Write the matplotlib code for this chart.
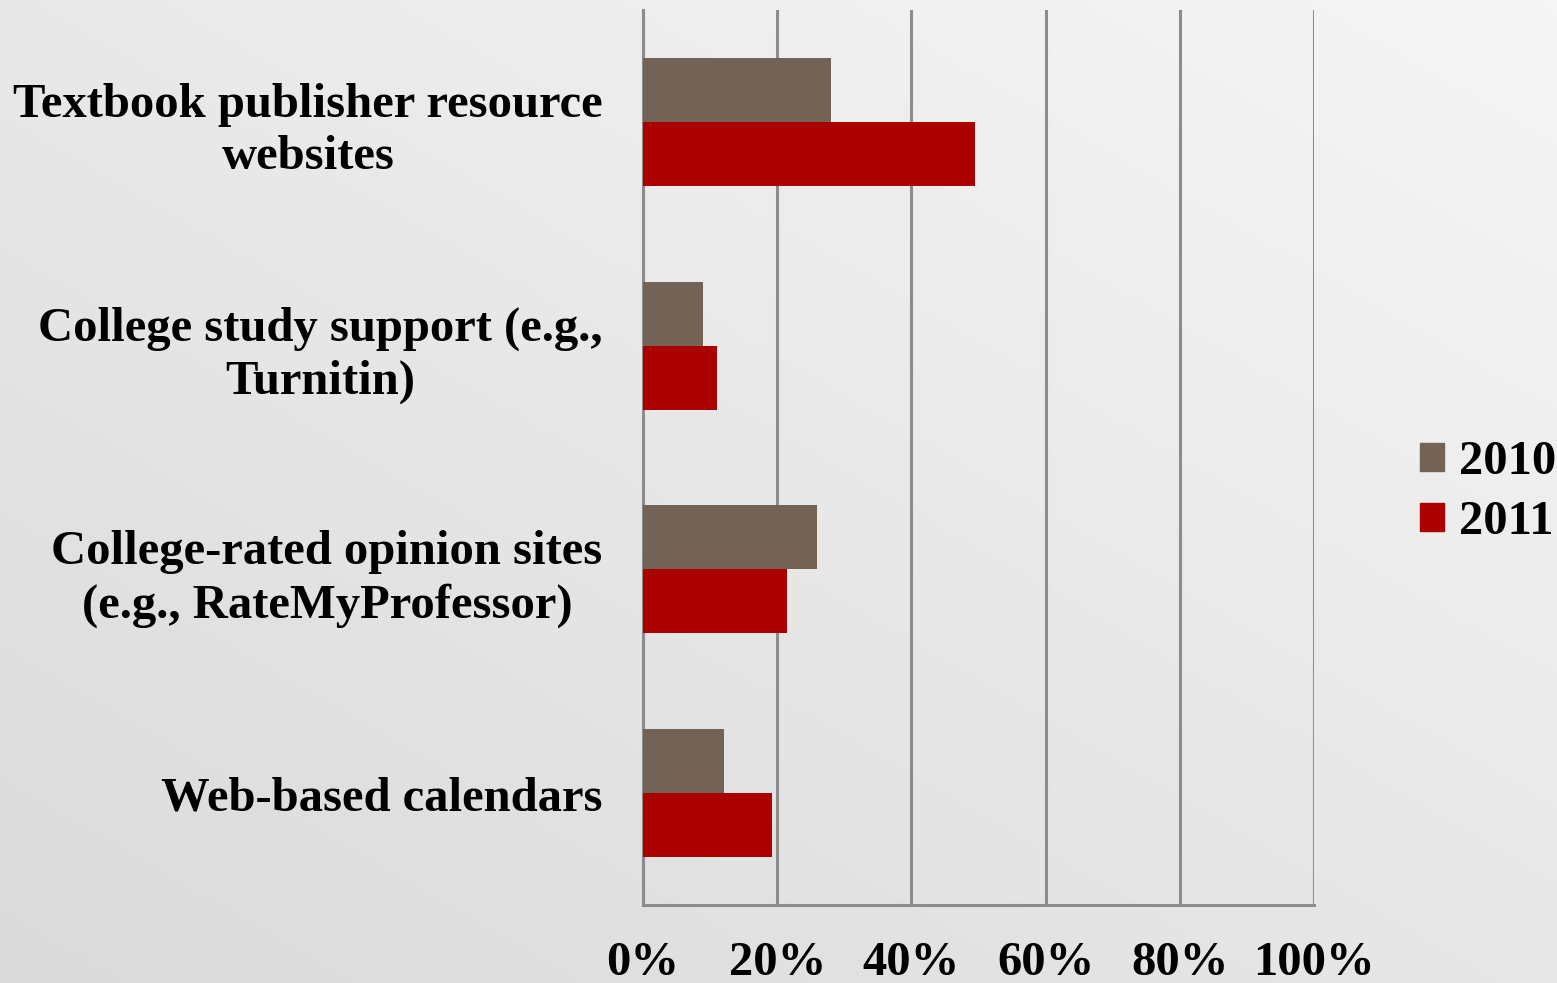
import numpy as np
import matplotlib
matplotlib.use("Agg")
import matplotlib.pyplot as plt
from matplotlib.patches import Patch

# categories listed top to bottom
categories = [
    "Textbook publisher resource\nwebsites",
    "College study support (e.g.,\nTurnitin)",
    "College-rated opinion sites\n(e.g., RateMyProfessor)",
    "Web-based calendars",
]
series_names = ["2010", "2011"]
values_2010 = [28.0, 9.0, 26.0, 12.0]
values_2011 = [49.5, 11.0, 21.5, 19.2]
tick_values = [0, 20, 40, 60, 80, 100]
tick_labels = ["0%", "20%", "40%", "60%", "80%", "100%"]

COL_2010 = "#736357"
COL_2011 = "#AA0000"
GRID = "#8c8c8c"
FS = 35

plt.rcParams["font.family"] = ["Liberation Serif", "DejaVu Serif"]
plt.rcParams["font.weight"] = "bold"

W, H = 1557, 983
fig = plt.figure(figsize=(W / 100, H / 100), dpi=100)

# grey paper background: light at top right, darker to bottom left
bg = fig.add_axes([0, 0, 1, 1], zorder=-10)
yy, xx = np.mgrid[0:1:200j, 0:1:300j]
d = np.clip(((1 - xx) * 0.55 + yy * 0.6) / 1.15, 0, 1)
shade = 0.965 - 0.11 * d
bg.imshow(np.dstack([shade] * 3), extent=[0, 1, 0, 1], aspect="auto", origin="upper")
bg.axis("off")

left, right = 643 / W, 1314 / W
top, bottom = 1 - 10 / H, 1 - 905 / H
ax = fig.add_axes([left, bottom, right - left, top - bottom])
ax.set_facecolor("none")

n = len(categories)
pos = np.arange(n)[::-1]
h = 0.286
ax.barh(pos + h / 2, values_2010, height=h, color=COL_2010, zorder=3)
ax.barh(pos - h / 2, values_2011, height=h, color=COL_2011, zorder=3)

ax.set_xlim(0, 100)
ax.set_ylim(-0.5, n - 0.5)
ax.set_xticks(tick_values)
ax.set_xticklabels(tick_labels, fontsize=FS, fontweight="bold")
ax.set_yticks(pos)
ax.set_yticklabels(categories, fontsize=FS, fontweight="bold", ha="right",
                   multialignment="center")
for t in ax.get_yticklabels():
    t.set_linespacing(1.25)
ax.tick_params(axis="y", length=0, pad=29)
ax.tick_params(axis="x", length=0, pad=26)

ax.grid(axis="x", color=GRID, linewidth=2.2, zorder=1)
for s in ["top", "right"]:
    ax.spines[s].set_visible(False)
for s in ["left", "bottom"]:
    ax.spines[s].set_color(GRID)
    ax.spines[s].set_linewidth(2.2)

handles = [Patch(color=COL_2010), Patch(color=COL_2011)]
fig.legend(handles, series_names, loc="center left",
           bbox_to_anchor=(1420 / W, 1 - 492 / H), frameon=False,
           prop={"weight": "bold", "size": FS}, borderpad=0, borderaxespad=0,
           handlelength=0.5, handleheight=0.5, handletextpad=0.3, labelspacing=0.33)

fig.savefig("out.png", dpi=100)
